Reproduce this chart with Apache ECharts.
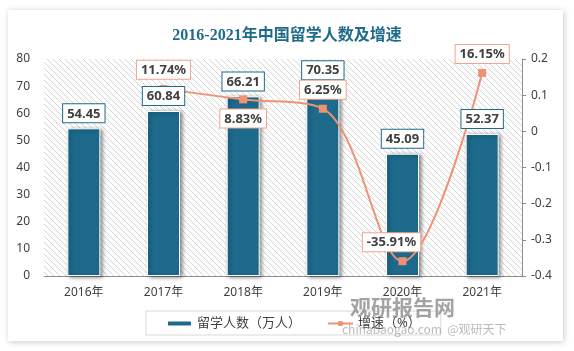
<!DOCTYPE html>
<html>
<head>
<meta charset="utf-8">
<script src="https://cdn.jsdelivr.net/npm/echarts@6/dist/echarts.min.js"></script>
<style>
  html, body { margin: 0; padding: 0; background: #fff; }
  #chart { width: 574px; height: 351px; }
</style>
</head>
<body>
<div id="chart"></div>
<script>
// 2016-2021 中国留学人数（柱）及增速（折线，右轴）

const years    = ['2016年', '2017年', '2018年', '2019年', '2020年', '2021年'];
const students = [54.45, 60.84, 66.21, 70.35, 45.09, 52.37];          // 万人
const growth   = [null, 0.1174, 0.0883, 0.0625, -0.3591, 0.1615];     // 增速（小数）
const leftTicks  = { min: 0, max: 80, interval: 10 };
const rightTicks = { min: -0.4, max: 0.2, interval: 0.1 };

const BAR   = '#1d6a8c';
const LINE  = '#ef9274';
const TEXT  = '#404040';
const FONT  = '"Noto Sans", "Noto Sans CJK SC", sans-serif';

// posición de la etiqueta de cada punto del crecimiento
const growthLabelPos = ['top', 'top', 'bottom', 'top', 'top', 'top'];
const growthLabelOff = [[0, 0], [0, 0], [0, 0], [0, 0], [-11, 0], [0, 0]];

// fondo rayado diagonal del área de trazado
function hatchPattern() {
  const c = document.createElement('canvas');
  c.width = 6; c.height = 6;
  const g = c.getContext('2d');
  g.fillStyle = '#fff';
  g.fillRect(0, 0, 6, 6);
  g.strokeStyle = '#d4d4d4';
  g.lineWidth = 1;
  g.beginPath();
  g.moveTo(-1, -1); g.lineTo(7, 7);
  g.moveTo(-7, -1); g.lineTo(1, 7);
  g.moveTo(5, -1);  g.lineTo(13, 7);
  g.stroke();
  return { image: c, repeat: 'repeat' };
}

const boxLabel = (border) => ({
  show: true,
  distance: 6,
  color: TEXT,
  fontSize: 13,
  fontWeight: 'bold',
  backgroundColor: '#fff',
  borderColor: border,
  borderWidth: 1,
  padding: [3, 4, 2, 4],
});

const chart = echarts.init(document.getElementById('chart'), null, { renderer: 'canvas' });

const growthData = growth.map((v, i) => v == null ? '-' : {
  value: v,
  label: { position: growthLabelPos[i], offset: growthLabelOff[i] },
});

// Orden de apilado como en el original: barras < línea < etiquetas de barras < etiquetas de la línea
chart.setOption({
  backgroundColor: '#fff',
  animation: false,
  textStyle: { fontFamily: FONT },
  title: {
    text: '2016-2021年中国留学人数及增速',
    left: 'center',
    top: 23,
    textStyle: {
      color: '#1f6b8a',
      fontSize: 16,
      fontWeight: 'bold',
      fontFamily: '"Liberation Serif", "Noto Sans CJK SC", serif',
    },
  },
  graphic: [
    {
      type: 'rect', z: -10, silent: true,
      shape: { x: 8, y: 10, width: 555, height: 331 },
      style: { fill: '#fff', shadowColor: 'rgba(0,0,0,0.22)', shadowBlur: 6, shadowOffsetX: 1, shadowOffsetY: 1 },
    },
    {
      type: 'text', z: 100, silent: true, left: 350, top: 297,
      style: { text: '观研报告网', fill: 'rgba(140,140,140,0.8)', font: 'bold 21px "Noto Sans CJK SC"' },
    },
    {
      type: 'text', z: 100, silent: true, left: 342, top: 323,
      style: { text: 'chinabaogao.com  @观研天下', fill: 'rgba(150,150,150,0.65)', font: '12px "Noto Sans CJK SC"' },
    },
  ],
  legend: {
    data: [
      { name: '留学人数（万人）', icon: 'rect' },
      { name: '增速（%）' },
    ],
    left: 146,
    top: 311,
    padding: [6, 20, 5, 20],
    borderColor: '#d9d9d9',
    borderWidth: 1,
    itemWidth: 25,
    itemHeight: 6,
    itemGap: 26,
    textStyle: { color: TEXT, fontSize: 13 },
  },
  grid: {
    left: 44, right: 52, top: 59, bottom: 75,
    show: true,
    borderWidth: 0,
    backgroundColor: hatchPattern(),
  },
  xAxis: {
    type: 'category',
    data: years,
    axisLine: { lineStyle: { color: '#8c8c8c' } },
    axisTick: { show: false },
    axisLabel: { color: TEXT, fontSize: 12, margin: 11 },
  },
  yAxis: [
    {
      type: 'value',
      ...leftTicks,
      axisLine: { show: false },
      axisTick: { show: false },
      splitLine: { show: false },
      axisLabel: { color: TEXT, fontSize: 12, margin: 14 },
    },
    {
      type: 'value',
      ...rightTicks,
      axisLine: { show: true, lineStyle: { color: '#8c8c8c' } },
      axisTick: { show: true, length: 4, lineStyle: { color: '#8c8c8c' } },
      splitLine: { show: false },
      axisLabel: { color: TEXT, fontSize: 12, margin: 9, formatter: v => +v.toFixed(1) + '' },
    },
  ],
  series: [
    {
      name: '留学人数（万人）',
      type: 'bar',
      z: 2,
      barWidth: 33,
      data: students,
      itemStyle: {
        color: BAR,
        borderColor: '#fff',
        borderWidth: 1,
        shadowColor: 'rgba(0,0,0,0.45)',
        shadowBlur: 4,
        shadowOffsetX: 2,
        shadowOffsetY: 1,
      },
    },
    {
      name: '增速（%）',
      type: 'line',
      z: 3,
      yAxisIndex: 1,
      smooth: 0.35,
      symbol: 'rect',
      symbolSize: 8,
      data: growth.map(v => v == null ? '-' : v),
      lineStyle: { color: LINE, width: 2 },
      itemStyle: { color: LINE },
    },
    {
      // sólo etiquetas de las barras
      name: 'bar-labels',
      type: 'bar',
      z: 4,
      barWidth: 33,
      barGap: '-100%',
      silent: true,
      data: students,
      itemStyle: { color: 'rgba(0,0,0,0)' },
      label: { ...boxLabel('#1f6a8a'), position: 'top' },
    },
    {
      // sólo etiquetas de la línea
      name: 'line-labels',
      type: 'line',
      z: 5,
      yAxisIndex: 1,
      silent: true,
      symbol: 'circle',
      symbolSize: 8,
      showSymbol: true,
      data: growthData,
      lineStyle: { opacity: 0 },
      itemStyle: { color: 'rgba(0,0,0,0)', borderWidth: 0 },
      label: { ...boxLabel('#f0a58c'), formatter: p => (p.value * 100).toFixed(2) + '%' },
    },
  ],
});
</script>
</body>
</html>
